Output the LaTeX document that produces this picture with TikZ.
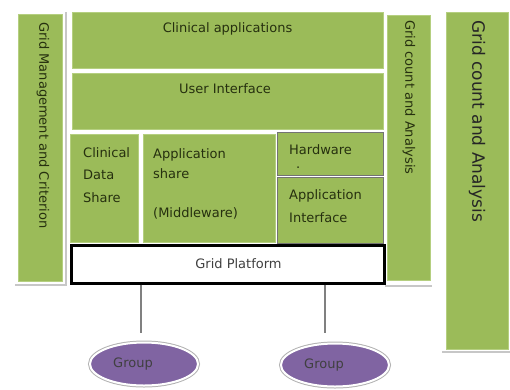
\documentclass[tikz,border=0pt]{standalone}
\usepackage{fontspec}
\setmainfont{DejaVu Sans}
\usetikzlibrary{shapes.geometric}
\definecolor{grn}{HTML}{9BBB59}
\definecolor{grnedge}{HTML}{B5CF80}
\definecolor{purp}{HTML}{8064A2}
\definecolor{txtg}{HTML}{26300F}
\begin{document}
\begin{tikzpicture}[x=1pt,y=-1pt,
  gbox/.style={fill=grn, draw=grnedge, line width=0.6pt, inner sep=0pt, anchor=north west},
  hbox/.style={fill=grn, draw=black!55, line width=0.8pt, inner sep=0pt, anchor=north west},
  txt/.style={font=\fontsize{13}{15}\selectfont, text=txtg, inner sep=0pt},
  shadowline/.style={draw=black!22, line width=2pt},
  platbox/.style={fill=white, draw=black, line width=3pt, inner sep=0pt, anchor=north west},
  grp/.style={ellipse, fill=purp, draw=white, line width=2pt, preaction={draw=black!30, line width=4pt},
    minimum width=108pt, minimum height=43pt, inner sep=0pt, font=\fontsize{13}{15}\selectfont, text=black!75},
  conn/.style={draw=black!50, line width=1.5pt}
]
\useasboundingbox (0,0) rectangle (510,389);
% shadows
\draw[shadowline] (15,285) -- (66,285) -- (66,12);
\draw[shadowline] (385,286) -- (432,286);
\draw[shadowline] (442,352) -- (510,352);
% left bar
\node[gbox, minimum width=44pt, minimum height=267pt] (lbar) at (18,14) {};
\node[txt, rotate=-90, anchor=west] (lbart) at (43,22) {Grid Management and Criterion};
% clinical applications
\node[gbox, minimum width=311pt, minimum height=56pt] (capp) at (72,12) {};
\node[txt] (cappt) at (227.5,29) {Clinical applications};
% user interface
\node[gbox, minimum width=311pt, minimum height=56pt] (ui) at (72,73) {};
\node[txt] (uit) at (225,89) {User Interface};
% clinical data share
\node[gbox, minimum width=68pt, minimum height=108pt] (cds) at (70,134) {};
\node[txt, anchor=north west, align=left, font=\fontsize{13}{22.5}\selectfont] (cdst) at (83,147) {Clinical\\Data\\Share};
% application share
\node[gbox, minimum width=132pt, minimum height=108pt] (ash) at (143,134) {};
\node[txt, anchor=north west, align=left, font=\fontsize{13}{20}\selectfont] (asht) at (153,148) {Application\\share\\[19pt](Middleware)};
% hardware
\node[hbox, minimum width=106pt, minimum height=43pt] (hw) at (277,132) {};
\node[txt, anchor=north west, align=left, font=\fontsize{13}{14}\selectfont] (hwt) at (289,144) {Hardware\\\hspace*{7pt}.};
% application interface
\node[hbox, minimum width=106pt, minimum height=66pt] (ai) at (277,177) {};
\node[txt, anchor=north west, align=left, font=\fontsize{13}{23}\selectfont] (ait) at (289,189) {Application\\Interface};
% grid platform
\node[platbox, minimum width=313pt, minimum height=38pt, font=\fontsize{13}{15}\selectfont, text=black!75] (plat) at (69.5,243.5) {\hspace*{22pt}Grid Platform};
% small right bar
\node[gbox, minimum width=43pt, minimum height=265pt] (rbar) at (387,15) {};
\node[txt, rotate=-90, anchor=west] (rbart) at (409,20) {Grid count and Analysis};
% far right bar
\node[gbox, minimum width=62pt, minimum height=337pt] (fbar) at (446,12) {};
\node[txt, rotate=-90, anchor=west, font=\fontsize{17}{20}\selectfont, text=black!85] (fbart) at (477,20) {Grid count and Analysis};
% groups
\node[grp] (g1) at (144,364) {Group\hspace*{22pt}};
\node[grp] (g2) at (335,365) {Group\hspace*{22pt}};
\coordinate (l1) at (141,333);
\coordinate (l2) at (325,333);
\draw[conn] (plat.south -| l1) -- (l1);
\draw[conn] (plat.south -| l2) -- (l2);
\end{tikzpicture}
\end{document}
